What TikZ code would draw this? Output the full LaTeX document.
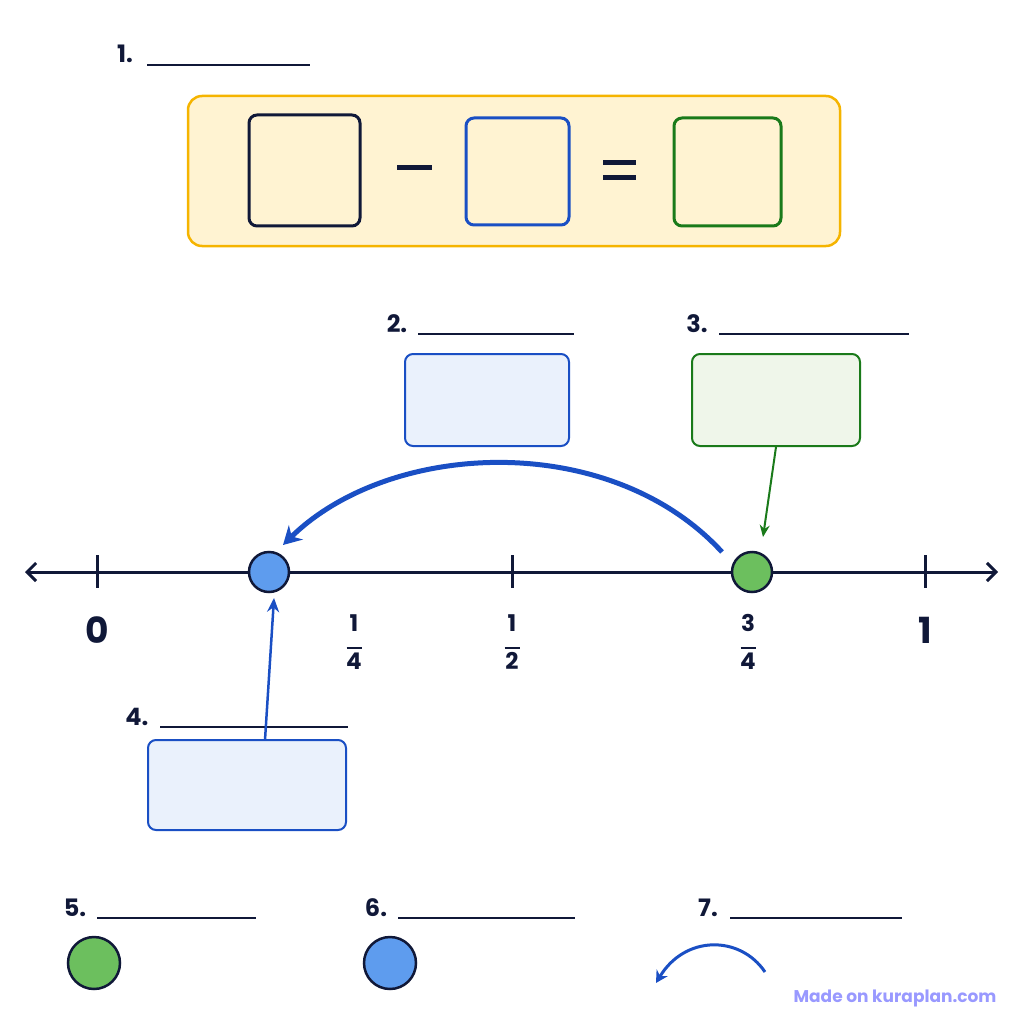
\documentclass[tikz,border=0pt]{standalone}
\usepackage{fontspec}
\setmainfont{Poppins}
\usetikzlibrary{arrows.meta}
\definecolor{navy}{HTML}{101838}
\definecolor{bl}{HTML}{1A4FC4}
\definecolor{gr}{HTML}{1A7A1A}
\definecolor{yf}{HTML}{FFF3D2}
\definecolor{ys}{HTML}{F5B400}
\definecolor{bf}{HTML}{EAF1FC}
\definecolor{gf}{HTML}{EFF6EA}
\definecolor{pbf}{HTML}{5E9CEE}
\definecolor{pgf}{HTML}{6CBF5E}
\begin{document}
\begin{tikzpicture}[x=1pt,y=-1pt,
 lab/.style={font=\fontsize{24}{26}\selectfont\bfseries,text=navy,anchor=base},
 blank/.style={line width=1.3pt,navy},
 bbox/.style={rounded corners=8pt,line width=2pt},
 num/.style={font=\fontsize{36}{38}\selectfont\bfseries,text=navy},
 frac/.style={font=\fontsize{23}{25}\selectfont\bfseries,text=navy,inner sep=0pt}]
\newcommand{\myfr}[2]{\begin{tabular}{@{}c@{}}#1\\[-7pt]\rule{15pt}{2.2pt}\\[-5pt]#2\end{tabular}}
\useasboundingbox (0,0) rectangle (1024,1024);
% 1
\node[lab] (l1) at (125,63) {1.};
\draw[blank] (147,65) -- (310,65);
\node[draw=ys,fill=yf,rounded corners=14pt,line width=2.5pt,minimum width=652pt,minimum height=150pt] (eq) at (514,171) {};
\draw[bbox,navy,line width=3pt] (249,115) rectangle (360,226);
\draw[line width=5pt,navy] (397,168) -- (432,168);
\draw[bbox,bl,line width=3pt] (466,118) rectangle (569,225);
\draw[line width=5pt,navy] (603,163) -- (636,163) (603,178) -- (636,178);
\draw[bbox,gr,line width=3pt] (674,118) rectangle (781,226);
% 2,3
\node[lab] (l2) at (397,332) {2.};
\draw[blank] (418,334) -- (574,334);
\node[draw=bl,fill=bf,bbox,minimum width=164pt,minimum height=92pt] (b2) at (487,400) {};
\node[lab] (l3) at (697,332) {3.};
\draw[blank] (719,334) -- (909,334);
\node[draw=gr,fill=gf,bbox,minimum width=168pt,minimum height=92pt] (b3) at (776,400) {};
% number line
\coordinate (L) at (25,572); \coordinate (R) at (998,572);
\draw[navy,line width=3pt,{Straight Barb[length=9pt,width=18pt]}-{Straight Barb[length=9pt,width=18pt]}] (L) -- (R);
\foreach \x in {97,512,925} \draw[navy,line width=3pt] (\x,555) -- (\x,588);
\node[num] (n0) at (97,630) {0};
\node[num] (n1) at (925,630) {1};
\node[frac] (f1) at (354,645) {\myfr{1}{4}};
\node[frac] (f2) at (512,645) {\myfr{1}{2}};
\node[frac] (f3) at (748,645) {\myfr{3}{4}};
\node[circle,draw=navy,line width=2.5pt,fill=pbf,minimum size=40pt,inner sep=0] (pb) at (269,572) {};
\node[circle,draw=navy,line width=2.5pt,fill=pgf,minimum size=40pt,inner sep=0] (pg) at (752,572) {};
\draw[bl,line width=5pt,-{Stealth[length=18pt,width=20pt]}] (722,552) .. controls (610,430) and (390,440) .. (283,545);
\draw[gr,line width=2pt,-{Stealth[length=12pt,width=10pt]}] (b3.south) -- (763,537);
% 4
\node[lab] (l4) at (137,725) {4.};
\draw[blank] (160,727) -- (348,727);
\node[draw=bl,fill=bf,bbox,minimum width=198pt,minimum height=90pt] (b4) at (247,785) {};
\draw[bl,line width=2.5pt,-{Stealth[length=14pt,width=12pt]}] (265,740) -- (274,598);
% 5,6,7
\node[lab] (l5) at (75,916) {5.};
\draw[blank] (97,918) -- (256,918);
\node[circle,draw=navy,line width=2.5pt,fill=pgf,minimum size=52pt,inner sep=0] (c5) at (94,963) {};
\node[lab] (l6) at (376,916) {6.};
\draw[blank] (398,918) -- (575,918);
\node[circle,draw=navy,line width=2.5pt,fill=pbf,minimum size=52pt,inner sep=0] (c6) at (390,963) {};
\node[lab] (l7) at (708,916) {7.};
\draw[blank] (730,918) -- (902,918);
\coordinate (a7s) at (765,972); \coordinate (a7e) at (656,983);
\draw[bl,line width=3pt,-{Stealth[length=12pt,width=13pt]}] (a7s) .. controls (740,935) and (685,935) .. (a7e);
\node[font=\fontsize{17}{19}\selectfont\bfseries,text=blue!40!white] (wm) at (895,998) {Made on kuraplan.com};
\end{tikzpicture}
\end{document}
